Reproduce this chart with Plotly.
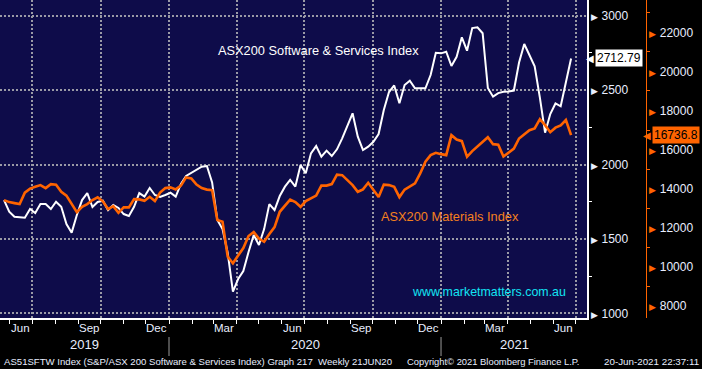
import plotly.graph_objects as go
import pandas as pd

W, H = 702, 369

# ---------------- data ----------------
START_DATE = "2019-05-24"          # first weekly observation
software = [1761, 1683, 1649, 1647, 1642, 1701, 1674, 1734, 1734, 1701,
            1750, 1716, 1600, 1542, 1661, 1761, 1808, 1714, 1748, 1757,
            1694, 1728, 1708, 1667, 1654, 1716, 1808, 1784, 1842, 1795,
            1782, 1795, 1810, 1784, 1869, 1923, 1943, 1960, 1985, 1990,
            1880, 1627, 1566, 1405, 1145, 1230, 1284, 1412, 1526, 1459,
            1566, 1734, 1694, 1788, 1851, 1896, 1852, 1997, 1941, 2075,
            2124, 2052, 2093, 2057, 2102, 2176, 2265, 2344, 2187, 2097,
            2120, 2153, 2205, 2366, 2487, 2531, 2411, 2534, 2563, 2512,
            2512, 2512, 2601, 2751, 2747, 2758, 2662, 2724, 2855, 2765,
            2917, 2922, 2882, 2514, 2456, 2480, 2489, 2490, 2497, 2685,
            2810, 2736, 2660, 2450, 2214, 2339, 2410, 2391, 2546, 2712.79]
materials = [13417, 13314, 13263, 13212, 13800, 14004, 14096, 14183, 14030, 14234,
             14198, 13841, 13647, 13238, 12803, 13074, 13212, 13417, 13555, 13355,
             12957, 13110, 12768, 13044, 13044, 13468, 13452, 13381, 13585, 13366,
             13800, 14030, 14066, 13963, 14158, 14577, 14525, 14209, 14030, 13953,
             13928, 12395, 12308, 10519, 10182, 10581, 10964, 11577, 11781, 11449,
             11286, 11679, 12037, 12819, 13110, 13442, 13314, 13074, 13366, 13493,
             13647, 14158, 14158, 14234, 14720, 14694, 14464, 14183, 13841, 13963,
             14301, 13902, 13570, 14209, 14183, 14096, 13570, 13953, 14132, 14270,
             14781, 15384, 15716, 15834, 15767, 15716, 16738, 16518, 16432, 15629,
             15921, 16176, 16432, 16636, 16278, 16253, 15650, 15844, 16048, 16569,
             16789, 16994, 17080, 17556, 17249, 16891, 17121, 17239, 17515, 16736.8]
dates = pd.date_range(START_DATE, periods=len(software), freq="7D")

left_ticks = [1000, 1500, 2000, 2500, 3000]
left_minor = [1250, 1750, 2250, 2750]
right_ticks = [8000, 10000, 12000, 14000, 16000, 18000, 20000, 22000]
right_minor = [9000, 11000, 13000, 15000, 17000, 19000, 21000, 23000]
quarter_starts = ["2019-07-01", "2019-10-01", "2020-01-01", "2020-04-01", "2020-07-01",
                  "2020-10-01", "2021-01-01", "2021-04-01", "2021-07-01"]
month_label_dates = ["2019-06-15", "2019-09-15", "2019-12-15", "2020-03-15", "2020-06-15",
                     "2020-09-15", "2020-12-15", "2021-03-15", "2021-06-15"]
month_labels = ["Jun", "Sep", "Dec", "Mar", "Jun", "Sep", "Dec", "Mar", "Jun"]
month_starts = [d.strftime("%Y-%m-%d") for d in pd.date_range("2019-06-01", "2021-07-01", freq="MS")]
years = [2019, 2020, 2021]
X_RANGE = ["2019-05-18 14:00", "2021-07-16 10:00"]
Y_RANGE = [968.4, 3105.5]
Y2_RANGE = [7386, 23652]

name_sw = "ASX200 Software & Services Index"
name_mat = "ASX200 Materials Index"
watermark = "www.marketmatters.com.au"
footer_left = "AS51SFTW Index (S&amp;P/ASX 200 Software &amp; Services Index) Graph 217  Weekly 21JUN20"
footer_mid = "Copyright\u00a9 2021 Bloomberg Finance L.P."
footer_right = "20-Jun-2021 22:37:11"

# ---------------- style ----------------
BG = "#0e0c4a"
ORANGE = "#ff6400"
GRID = "#9a9aa6"
TXT = "#e8eeff"
NUM_FONT = "Liberation Sans, Arial, sans-serif"
PLOT_R = 587 / W
PLOT_B = 1 - 318 / H


def py(px):
    return 1 - px / H


fig = go.Figure()
fig.add_trace(go.Scatter(x=dates, y=materials, yaxis="y2", mode="lines",
                         line=dict(color=ORANGE, width=2.6), name=name_mat))
fig.add_trace(go.Scatter(x=dates, y=software, yaxis="y", mode="lines",
                         line=dict(color="white", width=2), name=name_sw))

left_text = [f"<span style='font-size:9px'>\u25b6</span> {v}" for v in left_ticks]
right_text = [f"<span style='font-size:9px;color:{ORANGE}'>\u25b6</span> {v}" for v in right_ticks]

fig.update_layout(
    width=W, height=H,
    margin=dict(l=0, r=0, t=0, b=0, pad=0, autoexpand=False),
    paper_bgcolor="black", plot_bgcolor=BG,
    showlegend=False,
    xaxis=dict(domain=[0, PLOT_R], range=X_RANGE, type="date", anchor="y",
               tickvals=quarter_starts, showticklabels=False, ticks="",
               showgrid=True, gridcolor=GRID, griddash="2px,2px", gridwidth=2,
               showline=True, linecolor="white", linewidth=1.5, zeroline=False,
               automargin=False,
               minor=dict(tickvals=month_starts, ticks="outside", ticklen=4,
                          tickcolor="white", tickwidth=1, showgrid=False)),
    yaxis=dict(domain=[PLOT_B, 1], range=Y_RANGE, side="right", anchor="x",
               tickvals=left_ticks, ticktext=left_text, ticks="",
               tickfont=dict(family=NUM_FONT, size=12, color=TXT),
               showgrid=True, gridcolor=GRID, griddash="2px,2px", gridwidth=2,
               showline=True, linecolor="white", linewidth=1.5, zeroline=False,
               automargin=False,
               minor=dict(tickvals=left_minor, ticks="outside", ticklen=3,
                          tickcolor="white", tickwidth=1, showgrid=False)),
    yaxis2=dict(overlaying="y", range=Y2_RANGE, side="right", anchor="free",
                position=646 / W,
                tickvals=right_ticks, ticktext=right_text, ticks="",
                tickfont=dict(family=NUM_FONT, size=12, color=TXT),
                showgrid=False, showline=True, linecolor=ORANGE, linewidth=1,
                zeroline=False, automargin=False,
                minor=dict(tickvals=right_minor, ticks="outside", ticklen=3,
                           tickcolor=ORANGE, tickwidth=1, showgrid=False)),
)

ann = []
# series labels
ann.append(dict(text=name_sw, xref="paper", yref="paper", x=216 / W, y=py(51),
                xanchor="left", yanchor="middle", showarrow=False,
                font=dict(family=NUM_FONT, size=12.8, color="white")))
ann.append(dict(text=name_mat, xref="paper", yref="paper", x=379 / W, y=py(216),
                xanchor="left", yanchor="middle", showarrow=False,
                font=dict(family=NUM_FONT, size=12.8, color="#f5801e")))
ann.append(dict(text=watermark, xref="paper", yref="paper", x=410 / W, y=py(291.5),
                xanchor="left", yanchor="middle", showarrow=False,
                font=dict(family=NUM_FONT, size=12.4, color="#12e4f4")))

# month labels (mid-month, on the date axis)
for d, lab in zip(month_label_dates, month_labels):
    ann.append(dict(text=lab, xref="x", yref="paper", x=d, y=py(327.5),
                    xanchor="center", yanchor="middle", showarrow=False,
                    font=dict(family=NUM_FONT, size=11.5, color=TXT)))

# year labels centred on visible part of each year
x0, x1 = pd.Timestamp(X_RANGE[0]), pd.Timestamp(X_RANGE[1])
for yr in years:
    a = max(pd.Timestamp(f"{yr}-01-01"), x0)
    b = min(pd.Timestamp(f"{yr + 1}-01-01"), x1)
    mid = a + (b - a) / 2
    ann.append(dict(text=str(yr), xref="x", yref="paper", x=mid, y=py(344.5),
                    xanchor="center", yanchor="middle", showarrow=False,
                    font=dict(family=NUM_FONT, size=13, color=TXT)))

# last value labels
last_sw = software[-1]
last_mat = materials[-1]
ann.append(dict(text=f"{last_sw:.2f}", xref="paper", yref="y", x=595 / W, y=last_sw,
                xanchor="left", yanchor="middle", showarrow=False, bgcolor="white",
                borderpad=1, font=dict(family=NUM_FONT, size=12, color="black")))
ann.append(dict(text="\u25c0", xref="paper", yref="y", x=596 / W, y=last_sw,
                xanchor="right", yanchor="middle", showarrow=False,
                font=dict(family="DejaVu Sans", size=10, color="white")))
ann.append(dict(text=f"{last_mat:.1f}", xref="paper", yref="y2", x=652 / W, y=last_mat,
                xanchor="left", yanchor="middle", showarrow=False, bgcolor=ORANGE,
                borderpad=1, font=dict(family=NUM_FONT, size=12, color="black")))
ann.append(dict(text="\u25c0", xref="paper", yref="y2", x=653 / W, y=last_mat,
                xanchor="right", yanchor="middle", showarrow=False,
                font=dict(family="DejaVu Sans", size=10, color=ORANGE)))

# footer
ann.append(dict(text=footer_left, xref="paper", yref="paper", x=2 / W, y=py(361),
                xanchor="left", yanchor="middle", showarrow=False,
                font=dict(family=NUM_FONT, size=9.6, color=TXT)))
ann.append(dict(text=footer_mid, xref="paper", yref="paper", x=405 / W, y=py(361),
                xanchor="left", yanchor="middle", showarrow=False,
                font=dict(family=NUM_FONT, size=9.4, color=TXT)))
ann.append(dict(text=footer_right, xref="paper", yref="paper", x=701 / W, y=py(361),
                xanchor="right", yanchor="middle", showarrow=False,
                font=dict(family=NUM_FONT, size=9.8, color=TXT)))
fig.update_layout(annotations=ann)

# year separators
for yr in years[1:]:
    fig.add_shape(type="line", xref="x", yref="paper", x0=f"{yr}-01-01", x1=f"{yr}-01-01",
                  y0=py(337), y1=py(356), line=dict(color="#9a9a9a", width=1))

fig.write_html("out.html", config={"displayModeBar": False},
               post_script="document.body.style.margin='0';document.body.style.overflow='hidden';")
